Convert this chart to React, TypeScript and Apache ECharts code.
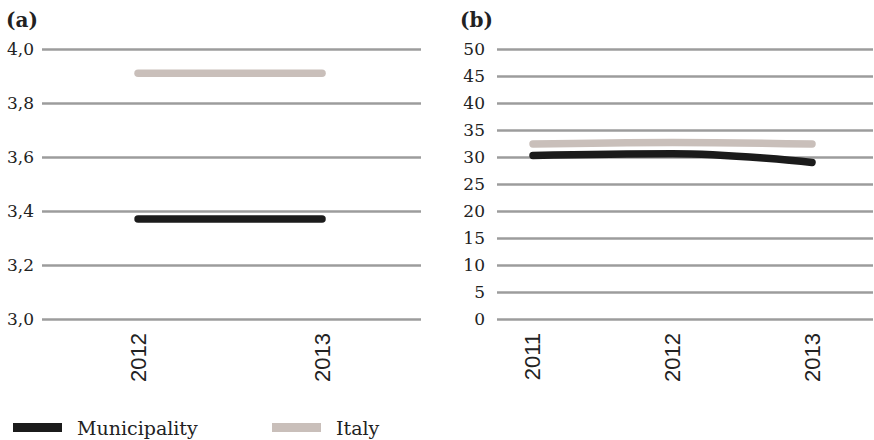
import React, { useEffect, useRef } from "react";
import * as echarts from "echarts";

// ---- data ----
const yearsA = [2012, 2013];
const municipalityA = [3.37, 3.37];
const italyA = [3.91, 3.91];

const yearsB = [2011, 2012, 2013];
const municipalityB = [30.3, 30.6, 29.0];
const italyB = [32.4, 32.7, 32.4];

const panelTitles = ["(a)", "(b)"];
const seriesNames = ["Municipality", "Italy"];

const COL_MUN = "#1b1b1b";
const COL_ITA = "#c9bfba";
const GRID_COL = "#9c9c9c";
const TEXT_COL = "#222222";

export default function App() {
  const ref = useRef<HTMLDivElement>(null);

  useEffect(() => {
    if (!ref.current) return;
    const chart = echarts.init(ref.current, undefined, { renderer: "svg" });

    const yLabelBase = {
      fontFamily: "DejaVu Serif",
      fontSize: 17,
      color: TEXT_COL,
    };
    const xLabelBase = {
      rotate: 90,
      fontFamily: "Liberation Sans",
      fontSize: 22,
      color: TEXT_COL,
      margin: 14,
      formatter: (v: number) => String(v),
    };
    const splitLine = { show: true, lineStyle: { color: GRID_COL, width: 2.5 } };

    const lineSeries = (
      name: string,
      idx: number,
      xs: number[],
      ys: number[],
      color: string,
      smooth: number | boolean
    ) => ({
      type: "line",
      name,
      xAxisIndex: idx,
      yAxisIndex: idx,
      data: xs.map((x, i) => [x, ys[i]]),
      showSymbol: false,
      symbol: "none",
      smooth,
      itemStyle: { color },
      lineStyle: { color, width: 7.5, cap: "round", join: "round" },
      emphasis: { disabled: true },
    });

    const legendBase = {
      orient: "horizontal",
      padding: 0,
      icon: "rect",
      itemWidth: 49,
      itemHeight: 9,
      selectedMode: false,
      itemStyle: { borderWidth: 0 },
      textStyle: {
        fontFamily: "DejaVu Serif",
        fontSize: 19,
        color: TEXT_COL,
        padding: [0, 0, 0, 10],
      },
    };

    chart.setOption({
      animation: false,
      backgroundColor: "#ffffff",
      title: [
        {
          text: panelTitles[0],
          left: 6,
          top: 10,
          padding: 0,
          textStyle: { fontFamily: "DejaVu Serif", fontWeight: "bold", fontSize: 20, color: TEXT_COL },
        },
        {
          text: panelTitles[1],
          left: 460,
          top: 10,
          padding: 0,
          textStyle: { fontFamily: "DejaVu Serif", fontWeight: "bold", fontSize: 20, color: TEXT_COL },
        },
      ],
      legend: [
        { ...legendBase, data: [seriesNames[0]], left: 13, top: 418 },
        { ...legendBase, data: [seriesNames[1]], left: 272, top: 418 },
      ],
      grid: [
        { left: 42, right: 453, top: 49, bottom: 121 },
        { left: 497, right: 1, top: 49, bottom: 121 },
      ],
      xAxis: [
        {
          type: "value",
          gridIndex: 0,
          min: 2011.478,
          max: 2013.538,
          axisLine: { show: false },
          axisTick: { show: false },
          splitLine: { show: false },
          axisLabel: { ...xLabelBase, customValues: yearsA },
        },
        {
          type: "value",
          gridIndex: 1,
          min: 2010.742,
          max: 2013.437,
          axisLine: { show: false },
          axisTick: { show: false },
          splitLine: { show: false },
          axisLabel: { ...xLabelBase, customValues: yearsB },
        },
      ],
      yAxis: [
        {
          type: "value",
          gridIndex: 0,
          min: 3.0,
          max: 4.0,
          interval: 0.2,
          axisLine: { show: false },
          axisTick: { show: false },
          splitLine,
          axisLabel: {
            ...yLabelBase,
            margin: 8,
            formatter: (v: number) => v.toFixed(1).replace(".", ","),
          },
        },
        {
          type: "value",
          gridIndex: 1,
          min: 0,
          max: 50,
          interval: 5,
          axisLine: { show: false },
          axisTick: { show: false },
          splitLine,
          axisLabel: { ...yLabelBase, margin: 12 },
        },
      ],
      series: [
        lineSeries(seriesNames[1], 0, yearsA, italyA, COL_ITA, false),
        lineSeries(seriesNames[0], 0, yearsA, municipalityA, COL_MUN, false),
        lineSeries(seriesNames[1], 1, yearsB, italyB, COL_ITA, 0.4),
        lineSeries(seriesNames[0], 1, yearsB, municipalityB, COL_MUN, 0.4),
      ],
    });

    return () => chart.dispose();
  }, []);

  return (
    <div
      ref={ref}
      style={{ position: "fixed", left: 0, top: 0, width: 874, height: 440, background: "#fff" }}
    />
  );
}
